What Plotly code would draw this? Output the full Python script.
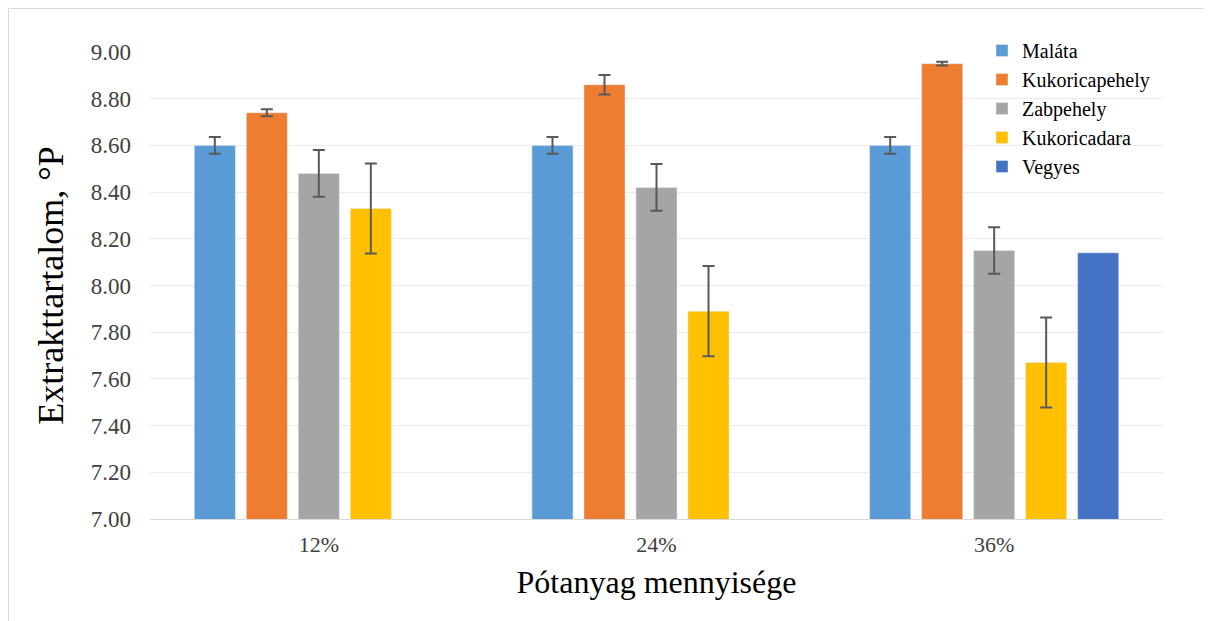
import plotly.graph_objects as go

categories = ["12%", "24%", "36%"]
series_names = ["Maláta", "Kukoricapehely", "Zabpehely", "Kukoricadara", "Vegyes"]
malata = [8.60, 8.60, 8.60]
malata_err = [0.036, 0.036, 0.036]
kukoricapehely = [8.74, 8.86, 8.95]
kukoricapehely_err = [0.015, 0.042, 0.008]
zabpehely = [8.48, 8.42, 8.15]
zabpehely_err = [0.10, 0.10, 0.10]
kukoricadara = [8.33, 7.89, 7.67]
kukoricadara_err = [0.193, 0.193, 0.193]
vegyes = [None, None, 8.14]
vegyes_err = [None, None, None]

colors = ["#5B9BD5", "#ED7D31", "#A5A5A5", "#FFC000", "#4472C4"]
values = [malata, kukoricapehely, zabpehely, kukoricadara, vegyes]
errors = [malata_err, kukoricapehely_err, zabpehely_err, kukoricadara_err, vegyes_err]

FONT = "Liberation Serif, Times New Roman, serif"

fig = go.Figure()
for name, vals, errs, col in zip(series_names, values, errors, colors):
    has_err = any(e is not None for e in errs)
    fig.add_trace(go.Bar(
        name=name, x=categories, y=vals, marker_color=col,
        error_y=dict(type="data", array=errs, visible=has_err,
                     color="#595959", thickness=2, width=6),
    ))

# page has an 8px body margin; figure coordinates = page coordinates - 8
OFF = 8
W, H = 1212 - OFF, 621 - OFF
ml, mt = 150 - OFF, 52 - OFF
pr, pb = 1163 - OFF, 519 - OFF
mr, mb = W - pr, H - pb
pw, ph = pr - ml, pb - mt

def px_x(x):
    return (x - OFF - ml) / pw

def px_y(y):
    return (pb - (y - OFF)) / ph

fig.update_layout(
    width=W, height=H,
    margin=dict(l=ml, r=mr, t=mt, b=mb),
    paper_bgcolor="white", plot_bgcolor="white",
    barmode="group", bargap=0.23, bargroupgap=0.21,
    font=dict(family=FONT, color="#404040", size=22),
    legend=dict(x=px_x(982), y=px_y(31), xanchor="left", yanchor="top",
                bgcolor="rgba(0,0,0,0)", font=dict(family=FONT, size=20, color="#000000"),
                tracegroupgap=0, itemwidth=30),
    xaxis=dict(
        title=dict(text="Pótanyag mennyisége", font=dict(family=FONT, size=32, color="#000000"), standoff=14),
        showline=True, linecolor="#d9d9d9", linewidth=1, ticks="",
        tickfont=dict(family=FONT, size=22, color="#404040"), ticklabelstandoff=6,
    ),
    yaxis=dict(
        title=dict(text="Extrakttartalom, °P", font=dict(family=FONT, size=36, color="#000000"), standoff=16),
        range=[7.0, 9.0], dtick=0.2, tickformat=".2f",
        showgrid=True, gridcolor="#ebebeb", gridwidth=1, zeroline=False,
        tickfont=dict(family=FONT, size=23, color="#404040"), ticks="", ticklabelstandoff=18,
    ),
    shapes=[dict(type="rect", xref="paper", yref="paper",
                 x0=px_x(OFF + 0.5), x1=px_x(1205), y0=px_y(640), y1=px_y(OFF + 0.5),
                 line=dict(color="#d9d9d9", width=1), layer="below")],
)

fig.write_html("out.html")
